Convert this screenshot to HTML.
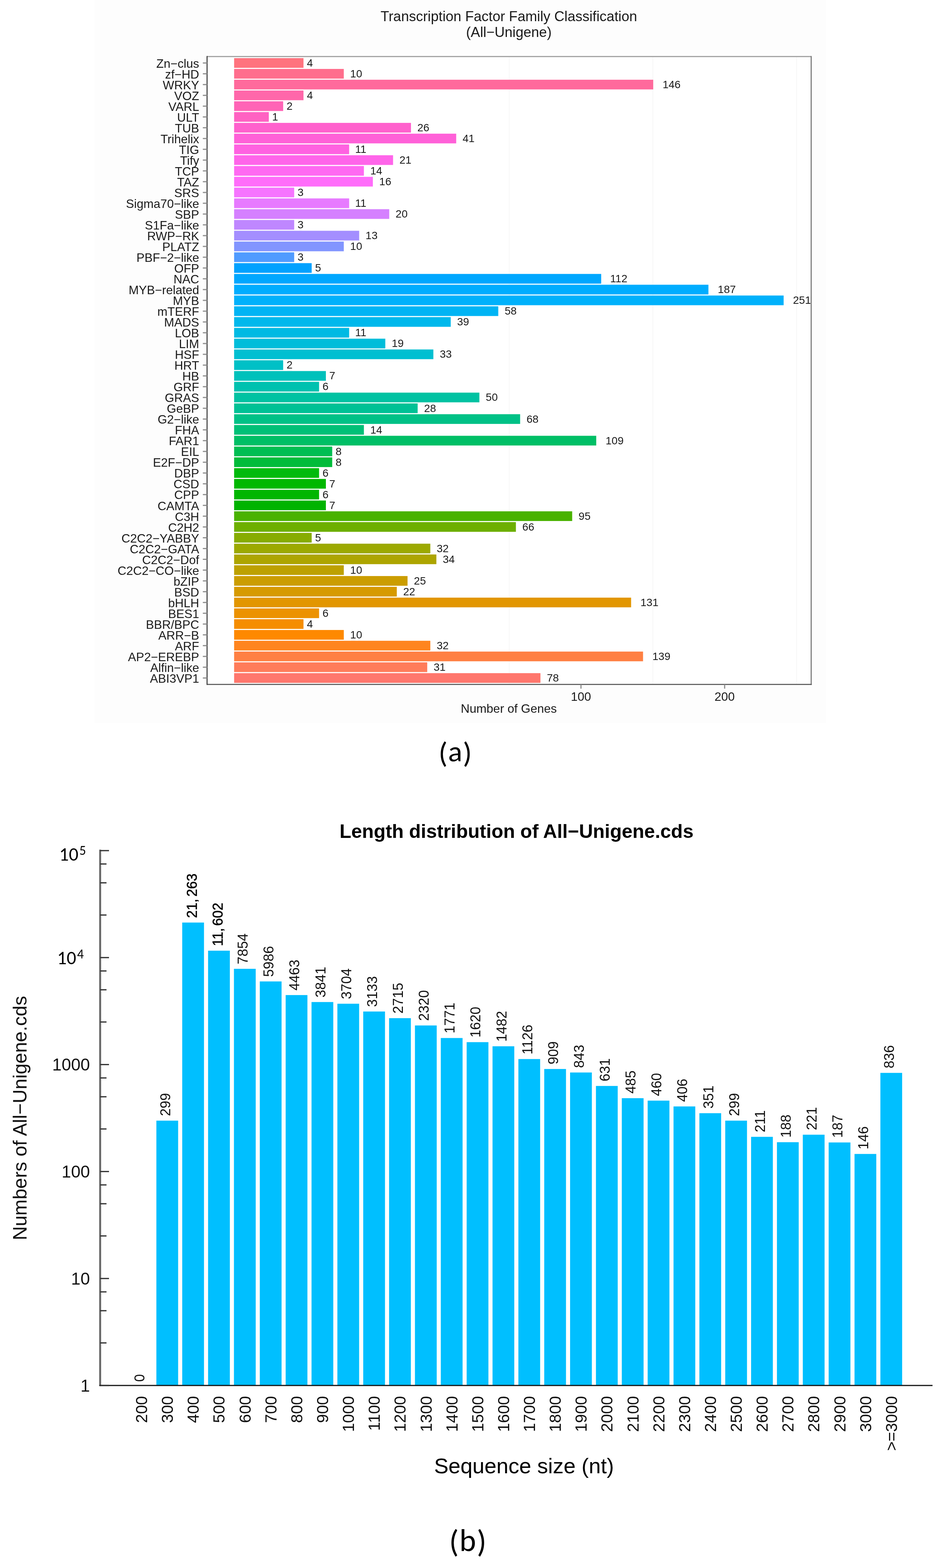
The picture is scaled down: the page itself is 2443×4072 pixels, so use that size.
<!DOCTYPE html><html><head><meta charset="utf-8"><title>Figure</title><style>
html,body{margin:0;padding:0;background:#fff;}body{width:2443px;height:4072px;overflow:hidden;}svg{display:block;}
text{font-family:"Liberation Sans", Arial, Helvetica, sans-serif;}
</style></head><body>
<svg width="2443" height="4072" viewBox="0 0 2443 4072">
<rect x="0" y="0" width="2443" height="4072" fill="#ffffff"/>
<rect x="245" y="0" width="1900" height="1878" fill="#fdfdfd"/>
<rect x="537.6" y="146.8" width="1568.4" height="1630.6" fill="#ffffff"/>
<line x1="1322.0" y1="146.8" x2="1322.0" y2="1777.4" stroke="#f8f8f8" stroke-width="2.5"/>
<line x1="1695.0" y1="146.8" x2="1695.0" y2="1777.4" stroke="#f8f8f8" stroke-width="2.5"/>
<line x1="2068.0" y1="146.8" x2="2068.0" y2="1777.4" stroke="#f8f8f8" stroke-width="2.5"/>
<rect x="607.8" y="151.00" width="180.10" height="25.20" fill="#FF737E"/>
<rect x="607.8" y="179.02" width="284.76" height="25.20" fill="#FF6E8D"/>
<rect x="607.8" y="207.04" width="1088.08" height="25.20" fill="#FF6A9C"/>
<rect x="607.8" y="235.06" width="180.10" height="25.20" fill="#FF67AA"/>
<rect x="607.8" y="263.08" width="127.35" height="25.20" fill="#FF64B6"/>
<rect x="607.8" y="291.10" width="90.05" height="25.20" fill="#FF62C2"/>
<rect x="607.8" y="319.12" width="459.17" height="25.20" fill="#FF61CD"/>
<rect x="607.8" y="347.14" width="576.60" height="25.20" fill="#FF61D8"/>
<rect x="607.8" y="375.16" width="298.66" height="25.20" fill="#FF62E1"/>
<rect x="607.8" y="403.18" width="412.66" height="25.20" fill="#FF65EA"/>
<rect x="607.8" y="431.20" width="336.94" height="25.20" fill="#FF69F2"/>
<rect x="607.8" y="459.22" width="360.20" height="25.20" fill="#FF6DFA"/>
<rect x="607.8" y="487.24" width="155.97" height="25.20" fill="#F674FF"/>
<rect x="607.8" y="515.26" width="298.66" height="25.20" fill="#E77AFF"/>
<rect x="607.8" y="543.28" width="402.72" height="25.20" fill="#D580FF"/>
<rect x="607.8" y="571.30" width="155.97" height="25.20" fill="#BF87FF"/>
<rect x="607.8" y="599.32" width="324.68" height="25.20" fill="#A48EFF"/>
<rect x="607.8" y="627.34" width="284.76" height="25.20" fill="#8295FF"/>
<rect x="607.8" y="655.36" width="155.97" height="25.20" fill="#509BFF"/>
<rect x="607.8" y="683.38" width="201.36" height="25.20" fill="#00A1FF"/>
<rect x="607.8" y="711.40" width="953.00" height="25.20" fill="#00A7FF"/>
<rect x="607.8" y="739.42" width="1231.42" height="25.20" fill="#00ADFF"/>
<rect x="607.8" y="767.44" width="1426.66" height="25.20" fill="#00B1FB"/>
<rect x="607.8" y="795.46" width="685.80" height="25.20" fill="#00B4F4"/>
<rect x="607.8" y="823.48" width="562.36" height="25.20" fill="#00B8EC"/>
<rect x="607.8" y="851.50" width="298.66" height="25.20" fill="#00BAE3"/>
<rect x="607.8" y="879.52" width="392.52" height="25.20" fill="#00BDDA"/>
<rect x="607.8" y="907.54" width="517.30" height="25.20" fill="#00BFD1"/>
<rect x="607.8" y="935.56" width="127.35" height="25.20" fill="#00C0C6"/>
<rect x="607.8" y="963.58" width="238.25" height="25.20" fill="#00C1BB"/>
<rect x="607.8" y="991.60" width="220.58" height="25.20" fill="#00C1AF"/>
<rect x="607.8" y="1019.62" width="636.75" height="25.20" fill="#00C2A2"/>
<rect x="607.8" y="1047.64" width="476.50" height="25.20" fill="#00C195"/>
<rect x="607.8" y="1075.66" width="742.57" height="25.20" fill="#00C186"/>
<rect x="607.8" y="1103.68" width="336.94" height="25.20" fill="#00C077"/>
<rect x="607.8" y="1131.70" width="940.15" height="25.20" fill="#00BF66"/>
<rect x="607.8" y="1159.72" width="254.70" height="25.20" fill="#00BE53"/>
<rect x="607.8" y="1187.74" width="254.70" height="25.20" fill="#00BC3A"/>
<rect x="607.8" y="1215.76" width="220.58" height="25.20" fill="#00BA0D"/>
<rect x="607.8" y="1243.78" width="238.25" height="25.20" fill="#00B800"/>
<rect x="607.8" y="1271.80" width="220.58" height="25.20" fill="#00B600"/>
<rect x="607.8" y="1299.82" width="238.25" height="25.20" fill="#00B300"/>
<rect x="607.8" y="1327.84" width="877.70" height="25.20" fill="#49B200"/>
<rect x="607.8" y="1355.86" width="731.57" height="25.20" fill="#6DAF00"/>
<rect x="607.8" y="1383.88" width="201.36" height="25.20" fill="#87AC00"/>
<rect x="607.8" y="1411.90" width="509.40" height="25.20" fill="#9CA900"/>
<rect x="607.8" y="1439.92" width="525.08" height="25.20" fill="#ADA500"/>
<rect x="607.8" y="1467.94" width="284.76" height="25.20" fill="#BDA100"/>
<rect x="607.8" y="1495.96" width="450.25" height="25.20" fill="#CB9D00"/>
<rect x="607.8" y="1523.98" width="422.37" height="25.20" fill="#D69A00"/>
<rect x="607.8" y="1552.00" width="1030.67" height="25.20" fill="#E29600"/>
<rect x="607.8" y="1580.02" width="220.58" height="25.20" fill="#EC9200"/>
<rect x="607.8" y="1608.04" width="180.10" height="25.20" fill="#F58D00"/>
<rect x="607.8" y="1636.06" width="284.76" height="25.20" fill="#FE8900"/>
<rect x="607.8" y="1664.08" width="509.40" height="25.20" fill="#FF851F"/>
<rect x="607.8" y="1692.10" width="1061.67" height="25.20" fill="#FF8043"/>
<rect x="607.8" y="1720.12" width="501.38" height="25.20" fill="#FF7C5A"/>
<rect x="607.8" y="1748.14" width="795.30" height="25.20" fill="#FF776D"/>
<defs><clipPath id="pc"><rect x="537.6" y="146.8" width="1566.4" height="1630.6"/></clipPath></defs>
<g clip-path="url(#pc)" font-size="28.0" fill="#1a1a1a">
<text x="796.7" y="172.8">4</text>
<text x="909.1" y="200.8">10</text>
<text x="1720.2" y="228.9">146</text>
<text x="796.7" y="256.9">4</text>
<text x="743.9" y="284.9">2</text>
<text x="706.6" y="312.9">1</text>
<text x="1083.5" y="340.9">26</text>
<text x="1201.0" y="369.0">41</text>
<text x="922.0" y="397.0">11</text>
<text x="1037.0" y="425.0">21</text>
<text x="961.3" y="453.0">14</text>
<text x="984.6" y="481.0">16</text>
<text x="772.6" y="509.1">3</text>
<text x="922.0" y="537.1">11</text>
<text x="1027.1" y="565.1">20</text>
<text x="772.6" y="593.1">3</text>
<text x="949.1" y="621.1">13</text>
<text x="909.1" y="649.2">10</text>
<text x="772.6" y="677.2">3</text>
<text x="817.9" y="705.2">5</text>
<text x="1584.1" y="733.2">112</text>
<text x="1863.6" y="761.2">187</text>
<text x="2058.8" y="789.3">251</text>
<text x="1310.2" y="817.3">58</text>
<text x="1186.7" y="845.3">39</text>
<text x="922.0" y="873.3">11</text>
<text x="1016.9" y="901.3">19</text>
<text x="1141.7" y="929.4">33</text>
<text x="743.9" y="957.4">2</text>
<text x="854.8" y="985.4">7</text>
<text x="837.2" y="1013.4">6</text>
<text x="1261.1" y="1041.4">50</text>
<text x="1100.9" y="1069.5">28</text>
<text x="1366.9" y="1097.5">68</text>
<text x="961.3" y="1125.5">14</text>
<text x="1572.3" y="1153.5">109</text>
<text x="871.3" y="1181.5">8</text>
<text x="871.3" y="1209.6">8</text>
<text x="837.2" y="1237.6">6</text>
<text x="854.8" y="1265.6">7</text>
<text x="837.2" y="1293.6">6</text>
<text x="854.8" y="1321.6">7</text>
<text x="1502.1" y="1349.7">95</text>
<text x="1355.9" y="1377.7">66</text>
<text x="817.9" y="1405.7">5</text>
<text x="1133.8" y="1433.7">32</text>
<text x="1149.4" y="1461.7">34</text>
<text x="909.1" y="1489.8">10</text>
<text x="1074.6" y="1517.8">25</text>
<text x="1046.7" y="1545.8">22</text>
<text x="1662.8" y="1573.8">131</text>
<text x="837.2" y="1601.8">6</text>
<text x="796.7" y="1629.9">4</text>
<text x="909.1" y="1657.9">10</text>
<text x="1133.8" y="1685.9">32</text>
<text x="1693.8" y="1713.9">139</text>
<text x="1125.7" y="1741.9">31</text>
<text x="1419.7" y="1770.0">78</text>
</g>
<line x1="537.6" y1="146.8" x2="2106.0" y2="146.8" stroke="#9a9a9a" stroke-width="2.8"/>
<line x1="2106.0" y1="145.4" x2="2106.0" y2="1778.8" stroke="#767676" stroke-width="2.8"/>
<line x1="537.6" y1="1777.4" x2="2107.4" y2="1777.4" stroke="#5a5a5a" stroke-width="2.8"/>
<line x1="537.6" y1="145.4" x2="537.6" y2="1778.8" stroke="#444444" stroke-width="2.8"/>
<g stroke="#8e8e8e" stroke-width="3">
<line x1="526.6" y1="163.60" x2="537.6" y2="163.60"/>
<line x1="526.6" y1="191.62" x2="537.6" y2="191.62"/>
<line x1="526.6" y1="219.64" x2="537.6" y2="219.64"/>
<line x1="526.6" y1="247.66" x2="537.6" y2="247.66"/>
<line x1="526.6" y1="275.68" x2="537.6" y2="275.68"/>
<line x1="526.6" y1="303.70" x2="537.6" y2="303.70"/>
<line x1="526.6" y1="331.72" x2="537.6" y2="331.72"/>
<line x1="526.6" y1="359.74" x2="537.6" y2="359.74"/>
<line x1="526.6" y1="387.76" x2="537.6" y2="387.76"/>
<line x1="526.6" y1="415.78" x2="537.6" y2="415.78"/>
<line x1="526.6" y1="443.80" x2="537.6" y2="443.80"/>
<line x1="526.6" y1="471.82" x2="537.6" y2="471.82"/>
<line x1="526.6" y1="499.84" x2="537.6" y2="499.84"/>
<line x1="526.6" y1="527.86" x2="537.6" y2="527.86"/>
<line x1="526.6" y1="555.88" x2="537.6" y2="555.88"/>
<line x1="526.6" y1="583.90" x2="537.6" y2="583.90"/>
<line x1="526.6" y1="611.92" x2="537.6" y2="611.92"/>
<line x1="526.6" y1="639.94" x2="537.6" y2="639.94"/>
<line x1="526.6" y1="667.96" x2="537.6" y2="667.96"/>
<line x1="526.6" y1="695.98" x2="537.6" y2="695.98"/>
<line x1="526.6" y1="724.00" x2="537.6" y2="724.00"/>
<line x1="526.6" y1="752.02" x2="537.6" y2="752.02"/>
<line x1="526.6" y1="780.04" x2="537.6" y2="780.04"/>
<line x1="526.6" y1="808.06" x2="537.6" y2="808.06"/>
<line x1="526.6" y1="836.08" x2="537.6" y2="836.08"/>
<line x1="526.6" y1="864.10" x2="537.6" y2="864.10"/>
<line x1="526.6" y1="892.12" x2="537.6" y2="892.12"/>
<line x1="526.6" y1="920.14" x2="537.6" y2="920.14"/>
<line x1="526.6" y1="948.16" x2="537.6" y2="948.16"/>
<line x1="526.6" y1="976.18" x2="537.6" y2="976.18"/>
<line x1="526.6" y1="1004.20" x2="537.6" y2="1004.20"/>
<line x1="526.6" y1="1032.22" x2="537.6" y2="1032.22"/>
<line x1="526.6" y1="1060.24" x2="537.6" y2="1060.24"/>
<line x1="526.6" y1="1088.26" x2="537.6" y2="1088.26"/>
<line x1="526.6" y1="1116.28" x2="537.6" y2="1116.28"/>
<line x1="526.6" y1="1144.30" x2="537.6" y2="1144.30"/>
<line x1="526.6" y1="1172.32" x2="537.6" y2="1172.32"/>
<line x1="526.6" y1="1200.34" x2="537.6" y2="1200.34"/>
<line x1="526.6" y1="1228.36" x2="537.6" y2="1228.36"/>
<line x1="526.6" y1="1256.38" x2="537.6" y2="1256.38"/>
<line x1="526.6" y1="1284.40" x2="537.6" y2="1284.40"/>
<line x1="526.6" y1="1312.42" x2="537.6" y2="1312.42"/>
<line x1="526.6" y1="1340.44" x2="537.6" y2="1340.44"/>
<line x1="526.6" y1="1368.46" x2="537.6" y2="1368.46"/>
<line x1="526.6" y1="1396.48" x2="537.6" y2="1396.48"/>
<line x1="526.6" y1="1424.50" x2="537.6" y2="1424.50"/>
<line x1="526.6" y1="1452.52" x2="537.6" y2="1452.52"/>
<line x1="526.6" y1="1480.54" x2="537.6" y2="1480.54"/>
<line x1="526.6" y1="1508.56" x2="537.6" y2="1508.56"/>
<line x1="526.6" y1="1536.58" x2="537.6" y2="1536.58"/>
<line x1="526.6" y1="1564.60" x2="537.6" y2="1564.60"/>
<line x1="526.6" y1="1592.62" x2="537.6" y2="1592.62"/>
<line x1="526.6" y1="1620.64" x2="537.6" y2="1620.64"/>
<line x1="526.6" y1="1648.66" x2="537.6" y2="1648.66"/>
<line x1="526.6" y1="1676.68" x2="537.6" y2="1676.68"/>
<line x1="526.6" y1="1704.70" x2="537.6" y2="1704.70"/>
<line x1="526.6" y1="1732.72" x2="537.6" y2="1732.72"/>
<line x1="526.6" y1="1760.74" x2="537.6" y2="1760.74"/>
</g>
<g font-size="31.5" fill="#1a1a1a" text-anchor="end">
<text x="517.0" y="175.68">Zn−clus</text>
<text x="517.0" y="203.70">zf−HD</text>
<text x="517.0" y="231.72">WRKY</text>
<text x="517.0" y="259.74">VOZ</text>
<text x="517.0" y="287.76">VARL</text>
<text x="517.0" y="315.78">ULT</text>
<text x="517.0" y="343.80">TUB</text>
<text x="517.0" y="371.82">Trihelix</text>
<text x="517.0" y="399.84">TIG</text>
<text x="517.0" y="427.86">Tify</text>
<text x="517.0" y="455.88">TCP</text>
<text x="517.0" y="483.90">TAZ</text>
<text x="517.0" y="511.92">SRS</text>
<text x="517.0" y="539.94">Sigma70−like</text>
<text x="517.0" y="567.96">SBP</text>
<text x="517.0" y="595.98">S1Fa−like</text>
<text x="517.0" y="624.00">RWP−RK</text>
<text x="517.0" y="652.02">PLATZ</text>
<text x="517.0" y="680.04">PBF−2−like</text>
<text x="517.0" y="708.06">OFP</text>
<text x="517.0" y="736.08">NAC</text>
<text x="517.0" y="764.10">MYB−related</text>
<text x="517.0" y="792.12">MYB</text>
<text x="517.0" y="820.14">mTERF</text>
<text x="517.0" y="848.16">MADS</text>
<text x="517.0" y="876.18">LOB</text>
<text x="517.0" y="904.20">LIM</text>
<text x="517.0" y="932.22">HSF</text>
<text x="517.0" y="960.24">HRT</text>
<text x="517.0" y="988.26">HB</text>
<text x="517.0" y="1016.28">GRF</text>
<text x="517.0" y="1044.30">GRAS</text>
<text x="517.0" y="1072.32">GeBP</text>
<text x="517.0" y="1100.34">G2−like</text>
<text x="517.0" y="1128.36">FHA</text>
<text x="517.0" y="1156.38">FAR1</text>
<text x="517.0" y="1184.40">EIL</text>
<text x="517.0" y="1212.42">E2F−DP</text>
<text x="517.0" y="1240.44">DBP</text>
<text x="517.0" y="1268.46">CSD</text>
<text x="517.0" y="1296.48">CPP</text>
<text x="517.0" y="1324.50">CAMTA</text>
<text x="517.0" y="1352.52">C3H</text>
<text x="517.0" y="1380.54">C2H2</text>
<text x="517.0" y="1408.56">C2C2−YABBY</text>
<text x="517.0" y="1436.58">C2C2−GATA</text>
<text x="517.0" y="1464.60">C2C2−Dof</text>
<text x="517.0" y="1492.62">C2C2−CO−like</text>
<text x="517.0" y="1520.64">bZIP</text>
<text x="517.0" y="1548.66">BSD</text>
<text x="517.0" y="1576.68">bHLH</text>
<text x="517.0" y="1604.70">BES1</text>
<text x="517.0" y="1632.72">BBR/BPC</text>
<text x="517.0" y="1660.74">ARR−B</text>
<text x="517.0" y="1688.76">ARF</text>
<text x="517.0" y="1716.78">AP2−EREBP</text>
<text x="517.0" y="1744.80">Alfin−like</text>
<text x="517.0" y="1772.82">ABI3VP1</text>
</g>
<g stroke="#8e8e8e" stroke-width="3">
<line x1="1508.3" y1="1777.4" x2="1508.3" y2="1788.4"/>
<line x1="1881.3" y1="1777.4" x2="1881.3" y2="1788.4"/>
</g>
<g font-size="31.5" fill="#1a1a1a" text-anchor="middle">
<text x="1508.3" y="1820.3">100</text><text x="1881.3" y="1820.3">200</text>
</g>
<text x="1321" y="1851" font-size="31.6" fill="#1a1a1a" text-anchor="middle">Number of Genes</text>
<text x="1321" y="54.6" font-size="36.5" fill="#1a1a1a" text-anchor="middle">Transcription Factor Family Classification</text>
<text x="1321" y="96" font-size="36.5" fill="#1a1a1a" text-anchor="middle">(All−Unigene)</text>
<text x="1182.5" y="1980.5" font-size="77" letter-spacing="1.5" fill="#000" text-anchor="middle" style="font-family:Carlito, Calibri, 'Liberation Sans', sans-serif">(<tspan dy="-3.5">a</tspan><tspan dy="3.5">)</tspan></text>
<rect x="405.98" y="2910.26" width="56.50" height="687.74" fill="#00BFFF"/>
<rect x="473.11" y="2395.79" width="56.50" height="1202.21" fill="#00BFFF"/>
<rect x="540.24" y="2468.87" width="56.50" height="1129.13" fill="#00BFFF"/>
<rect x="607.37" y="2515.94" width="56.50" height="1082.06" fill="#00BFFF"/>
<rect x="674.50" y="2548.71" width="56.50" height="1049.29" fill="#00BFFF"/>
<rect x="741.63" y="2584.13" width="56.50" height="1013.87" fill="#00BFFF"/>
<rect x="808.76" y="2602.24" width="56.50" height="995.76" fill="#00BFFF"/>
<rect x="875.89" y="2606.62" width="56.50" height="991.38" fill="#00BFFF"/>
<rect x="943.02" y="2626.82" width="56.50" height="971.18" fill="#00BFFF"/>
<rect x="1010.15" y="2644.10" width="56.50" height="953.90" fill="#00BFFF"/>
<rect x="1077.28" y="2663.07" width="56.50" height="934.93" fill="#00BFFF"/>
<rect x="1144.41" y="2695.64" width="56.50" height="902.36" fill="#00BFFF"/>
<rect x="1211.54" y="2706.40" width="56.50" height="891.60" fill="#00BFFF"/>
<rect x="1278.67" y="2717.14" width="56.50" height="880.86" fill="#00BFFF"/>
<rect x="1345.80" y="2750.28" width="56.50" height="847.72" fill="#00BFFF"/>
<rect x="1412.93" y="2776.11" width="56.50" height="821.89" fill="#00BFFF"/>
<rect x="1480.06" y="2785.21" width="56.50" height="812.79" fill="#00BFFF"/>
<rect x="1547.19" y="2820.15" width="56.50" height="777.85" fill="#00BFFF"/>
<rect x="1614.32" y="2851.90" width="56.50" height="746.10" fill="#00BFFF"/>
<rect x="1681.45" y="2858.29" width="56.50" height="739.71" fill="#00BFFF"/>
<rect x="1748.58" y="2873.35" width="56.50" height="724.65" fill="#00BFFF"/>
<rect x="1815.71" y="2890.91" width="56.50" height="707.09" fill="#00BFFF"/>
<rect x="1882.84" y="2910.26" width="56.50" height="687.74" fill="#00BFFF"/>
<rect x="1949.97" y="2952.31" width="56.50" height="645.69" fill="#00BFFF"/>
<rect x="2017.10" y="2966.24" width="56.50" height="631.76" fill="#00BFFF"/>
<rect x="2084.23" y="2946.73" width="56.50" height="651.27" fill="#00BFFF"/>
<rect x="2151.36" y="2966.88" width="56.50" height="631.12" fill="#00BFFF"/>
<rect x="2218.49" y="2996.74" width="56.50" height="601.26" fill="#00BFFF"/>
<rect x="2285.62" y="2786.21" width="56.50" height="811.79" fill="#00BFFF"/>
<g font-size="36" fill="#111">
<text transform="translate(374.70 3588.50) rotate(-90)">0</text>
<text transform="translate(441.83 2898.46) rotate(-90)">299</text>
<text transform="translate(510.96 2383.99) rotate(-90)" fill="#000" stroke="#000" stroke-width="0.7">21,<tspan dx="5.5">263</tspan></text>
<text transform="translate(578.09 2457.07) rotate(-90)" fill="#000" stroke="#000" stroke-width="0.7">11,<tspan dx="5.5">602</tspan></text>
<text transform="translate(643.22 2504.14) rotate(-90)">7854</text>
<text transform="translate(710.35 2536.91) rotate(-90)">5986</text>
<text transform="translate(777.48 2572.33) rotate(-90)">4463</text>
<text transform="translate(844.61 2590.44) rotate(-90)">3841</text>
<text transform="translate(911.74 2594.82) rotate(-90)">3704</text>
<text transform="translate(978.87 2615.02) rotate(-90)">3133</text>
<text transform="translate(1046.00 2632.30) rotate(-90)">2715</text>
<text transform="translate(1113.13 2651.27) rotate(-90)">2320</text>
<text transform="translate(1180.26 2683.84) rotate(-90)">1771</text>
<text transform="translate(1247.39 2694.60) rotate(-90)">1620</text>
<text transform="translate(1314.52 2705.34) rotate(-90)">1482</text>
<text transform="translate(1381.65 2738.48) rotate(-90)">1126</text>
<text transform="translate(1448.78 2764.31) rotate(-90)">909</text>
<text transform="translate(1515.91 2773.41) rotate(-90)">843</text>
<text transform="translate(1583.04 2808.35) rotate(-90)">631</text>
<text transform="translate(1650.17 2840.10) rotate(-90)">485</text>
<text transform="translate(1717.30 2846.49) rotate(-90)">460</text>
<text transform="translate(1784.43 2861.55) rotate(-90)">406</text>
<text transform="translate(1851.56 2879.11) rotate(-90)">351</text>
<text transform="translate(1918.69 2898.46) rotate(-90)">299</text>
<text transform="translate(1985.82 2940.51) rotate(-90)">211</text>
<text transform="translate(2052.95 2954.44) rotate(-90)">188</text>
<text transform="translate(2120.08 2934.93) rotate(-90)">221</text>
<text transform="translate(2187.21 2955.08) rotate(-90)">187</text>
<text transform="translate(2254.34 2984.94) rotate(-90)">146</text>
<text transform="translate(2321.47 2774.41) rotate(-90)">836</text>
</g>
<line x1="260.0" y1="2206.5" x2="260.0" y2="3599.5" stroke="#666" stroke-width="5"/>
<line x1="258.0" y1="3598.0" x2="2421.0" y2="3598.0" stroke="#111" stroke-width="3.2"/>
<g stroke="#333" stroke-width="3.2">
<line x1="260.0" y1="3598.00" x2="283.0" y2="3598.00"/>
<line x1="260.0" y1="3487.45" x2="276.5" y2="3487.45"/>
<line x1="260.0" y1="3403.83" x2="276.5" y2="3403.83"/>
<line x1="260.0" y1="3354.91" x2="276.5" y2="3354.91"/>
<line x1="260.0" y1="3320.20" x2="283.0" y2="3320.20"/>
<line x1="260.0" y1="3209.65" x2="276.5" y2="3209.65"/>
<line x1="260.0" y1="3126.03" x2="276.5" y2="3126.03"/>
<line x1="260.0" y1="3077.11" x2="276.5" y2="3077.11"/>
<line x1="260.0" y1="3042.40" x2="283.0" y2="3042.40"/>
<line x1="260.0" y1="2931.85" x2="276.5" y2="2931.85"/>
<line x1="260.0" y1="2848.23" x2="276.5" y2="2848.23"/>
<line x1="260.0" y1="2799.31" x2="276.5" y2="2799.31"/>
<line x1="260.0" y1="2764.60" x2="283.0" y2="2764.60"/>
<line x1="260.0" y1="2654.05" x2="276.5" y2="2654.05"/>
<line x1="260.0" y1="2570.43" x2="276.5" y2="2570.43"/>
<line x1="260.0" y1="2521.51" x2="276.5" y2="2521.51"/>
<line x1="260.0" y1="2486.80" x2="283.0" y2="2486.80"/>
<line x1="260.0" y1="2376.25" x2="276.5" y2="2376.25"/>
<line x1="260.0" y1="2292.63" x2="276.5" y2="2292.63"/>
<line x1="260.0" y1="2243.71" x2="276.5" y2="2243.71"/>
<line x1="260.0" y1="2209.00" x2="283.0" y2="2209.00"/>
</g>
<g font-size="44" fill="#111" text-anchor="end">
<text x="233.5" y="3613.50">1</text>
<text x="233.5" y="3335.70">10</text>
<text x="233.5" y="3057.90">100</text>
<text x="233.5" y="2780.10">1000</text>
</g>
<text x="197.8" y="2503.70" font-size="49" fill="#000" text-anchor="end" style="font-family:Carlito, Calibri, 'Liberation Sans', sans-serif">10</text>
<text x="200.3" y="2489.20" font-size="34" fill="#000" style="font-family:Carlito, Calibri, 'Liberation Sans', sans-serif">4</text>
<text x="203.5" y="2234.50" font-size="49" fill="#000" text-anchor="end" style="font-family:Carlito, Calibri, 'Liberation Sans', sans-serif">10</text>
<text x="206.0" y="2220.00" font-size="34" fill="#000" style="font-family:Carlito, Calibri, 'Liberation Sans', sans-serif">5</text>
<g font-size="42" fill="#111" text-anchor="end">
<text transform="translate(382.10 3625.30) rotate(-90)">200</text>
<text transform="translate(449.23 3625.30) rotate(-90)">300</text>
<text transform="translate(516.36 3625.30) rotate(-90)">400</text>
<text transform="translate(583.49 3625.30) rotate(-90)">500</text>
<text transform="translate(650.62 3625.30) rotate(-90)">600</text>
<text transform="translate(717.75 3625.30) rotate(-90)">700</text>
<text transform="translate(784.88 3625.30) rotate(-90)">800</text>
<text transform="translate(852.01 3625.30) rotate(-90)">900</text>
<text transform="translate(919.14 3625.30) rotate(-90)">1000</text>
<text transform="translate(986.27 3625.30) rotate(-90)">1100</text>
<text transform="translate(1053.40 3625.30) rotate(-90)">1200</text>
<text transform="translate(1120.53 3625.30) rotate(-90)">1300</text>
<text transform="translate(1187.66 3625.30) rotate(-90)">1400</text>
<text transform="translate(1254.79 3625.30) rotate(-90)">1500</text>
<text transform="translate(1321.92 3625.30) rotate(-90)">1600</text>
<text transform="translate(1389.05 3625.30) rotate(-90)">1700</text>
<text transform="translate(1456.18 3625.30) rotate(-90)">1800</text>
<text transform="translate(1523.31 3625.30) rotate(-90)">1900</text>
<text transform="translate(1590.44 3625.30) rotate(-90)">2000</text>
<text transform="translate(1657.57 3625.30) rotate(-90)">2100</text>
<text transform="translate(1724.70 3625.30) rotate(-90)">2200</text>
<text transform="translate(1791.83 3625.30) rotate(-90)">2300</text>
<text transform="translate(1858.96 3625.30) rotate(-90)">2400</text>
<text transform="translate(1926.09 3625.30) rotate(-90)">2500</text>
<text transform="translate(1993.22 3625.30) rotate(-90)">2600</text>
<text transform="translate(2060.35 3625.30) rotate(-90)">2700</text>
<text transform="translate(2127.48 3625.30) rotate(-90)">2800</text>
<text transform="translate(2194.61 3625.30) rotate(-90)">2900</text>
<text transform="translate(2261.74 3625.30) rotate(-90)">3000</text>
<text transform="translate(2328.87 3625.30) rotate(-90)">&gt;=3000</text>
</g>
<text x="1341" y="2175.5" font-size="50" font-weight="bold" fill="#000" text-anchor="middle">Length distribution of All−Unigene.cds</text>
<text transform="translate(69.3 2903.5) rotate(-90)" font-size="50.2" fill="#111" text-anchor="middle">Numbers of All−Unigene.cds</text>
<text x="1360.4" y="3826.2" font-size="56" fill="#000" text-anchor="middle">Sequence size (nt)</text>
<text x="1215.4" y="4031" font-size="82" letter-spacing="2" fill="#000" text-anchor="middle" style="font-family:Carlito, Calibri, 'Liberation Sans', sans-serif">(<tspan dy="-3">b</tspan><tspan dy="3">)</tspan></text>
</svg></body></html>
